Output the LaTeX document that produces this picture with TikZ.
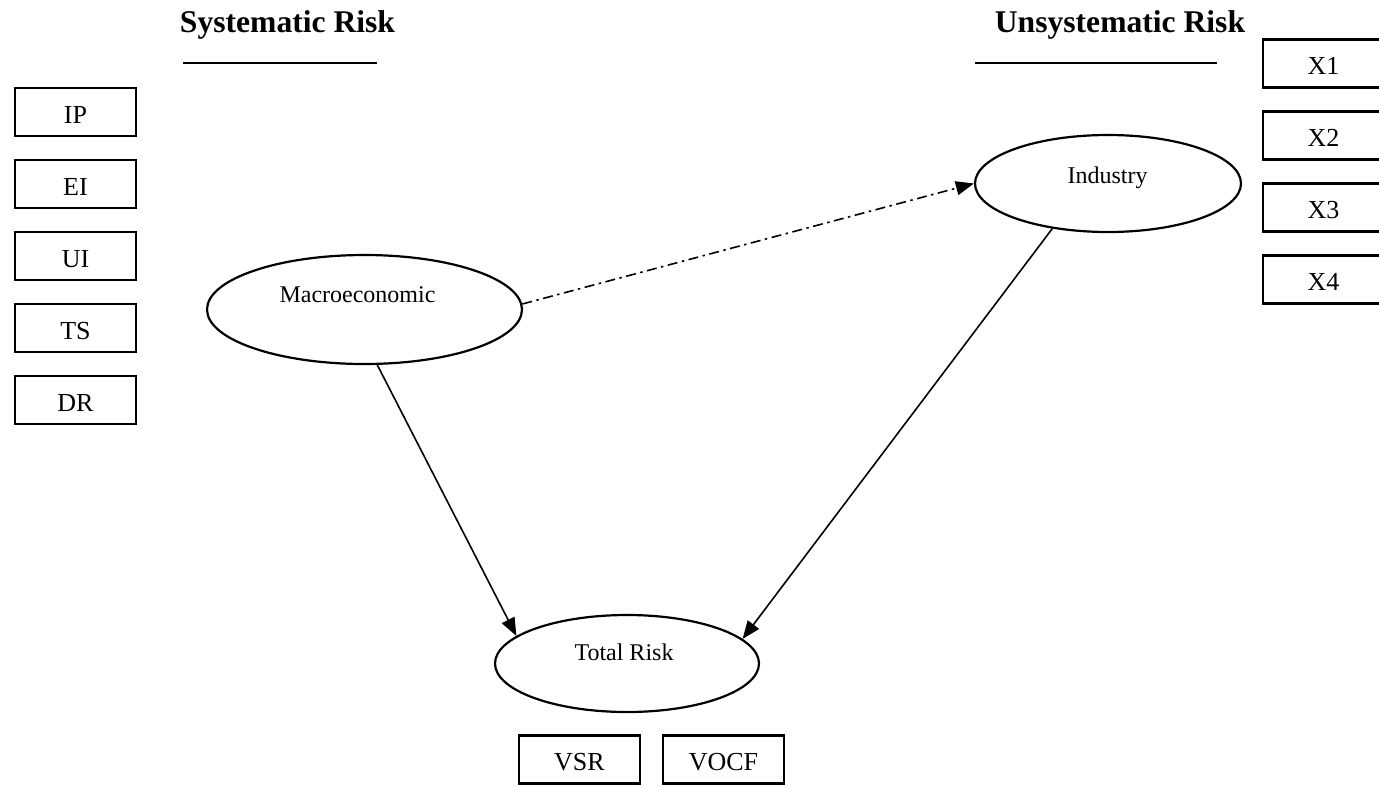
\documentclass[tikz,border=0pt]{standalone}
\usepackage{fontspec}
\setmainfont{Liberation Serif}
\usetikzlibrary{shapes.geometric,arrows.meta}

\begin{document}
\begin{tikzpicture}[x=1pt,y=-1pt,
  heading/.style={font=\fontsize{31.6}{36}\selectfont\bfseries, anchor=base, inner sep=0pt},
  varbox/.style={draw, line width=2.5pt, minimum width=121pt, minimum height=48pt,
    inner sep=0pt, text height=22pt, text depth=0pt, font=\fontsize{26}{30}\selectfont},
  factor/.style={draw, ellipse, line width=2.2pt, inner sep=0pt},
  factortext/.style={font=\fontsize{24}{28}\selectfont, anchor=base, inner sep=0pt},
  rule/.style={line width=1.3pt},
  link/.style={line width=1.6pt, -{Triangle[length=18pt,width=14pt]}},
  dashdot/.style={dash pattern=on 10pt off 4.5pt on 2.5pt off 4.5pt}
]
\useasboundingbox (0,0) rectangle (1379,785);

% headings with their rules
\node[heading] (syshead) at (287.5,32) {Systematic Risk};
\node[heading] (unsyshead) at (1120,32) {Unsystematic Risk};
\coordinate (sysrule-l) at (183,63);
\coordinate (sysrule-r) at (377,63);
\coordinate (unsysrule-l) at (975,63);
\coordinate (unsysrule-r) at (1217,63);
\draw[rule] (sysrule-l) -- (sysrule-r);
\draw[rule] (unsysrule-l) -- (unsysrule-r);

% macroeconomic variables
\node[varbox] (ip) at (75.5,112) {IP};
\node[varbox] (ei) at (75.5,184) {EI};
\node[varbox] (ui) at (75.5,256) {UI};
\node[varbox] (ts) at (75.5,328) {TS};
\node[varbox] (dr) at (75.5,400) {DR};

% industry variables
\node[varbox] (x1) at (1323.5,63.5) {X1};
\node[varbox] (x2) at (1323.5,135.5) {X2};
\node[varbox] (x3) at (1323.5,207.5) {X3};
\node[varbox] (x4) at (1323.5,279.5) {X4};

% total risk measures
\node[varbox] (vsr) at (579.5,759.5) {VSR};
\node[varbox] (vocf) at (723.5,759.5) {VOCF};

% risk factors
\node[factor, minimum width=315pt, minimum height=109pt] (macro) at (364.5,309.5) {};
\node[factor, minimum width=266pt, minimum height=97pt] (industry) at (1108,183.5) {};
\node[factor, minimum width=264pt, minimum height=97pt] (total) at (627,663.5) {};

\node[factortext] (macrotext) at (357.5,302) {Macroeconomic};
\node[factortext] (industrytext) at (1107.5,183) {Industry};
\node[factortext] (totaltext) at (624,660) {Total Risk};

% relations
\draw[link, dashdot] (macro.2.7) -- (industry.west);
\draw[link] (macro.-77) -- (total.166.3);
\draw[link] (industry.-141) -- (total.12.6);
\end{tikzpicture}
\end{document}
